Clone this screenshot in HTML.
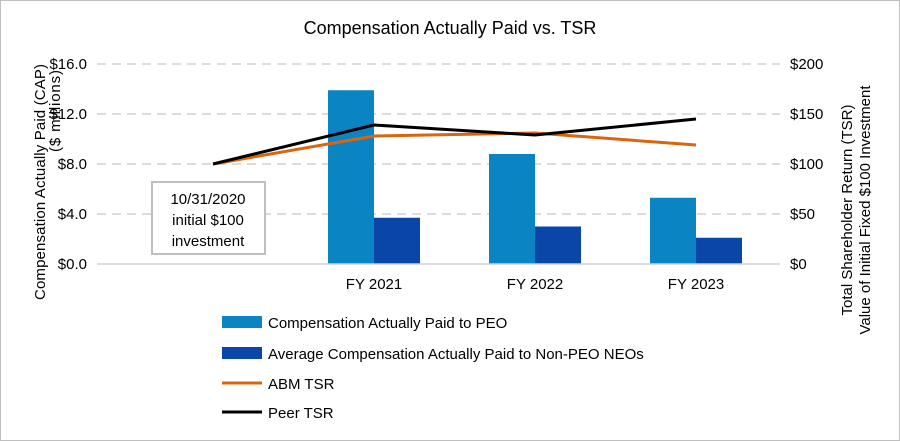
<!DOCTYPE html>
<html><head><meta charset="utf-8"><style>
body{margin:0;background:#fff}
svg{display:block;font-family:"Liberation Sans",Arial,sans-serif}
</style></head><body>
<svg id="c" width="900" height="441" viewBox="0 0 900 441">
<rect x="0.5" y="0.5" width="899" height="440" fill="#fff" stroke="#bfbfbf"/>
<text x="450" y="34" text-anchor="middle" font-size="18" fill="#000">Compensation  Actually  Paid vs. TSR</text>
<g id="grid"></g><g id="bars"></g><g id="lines"></g><g id="axes"></g>
<rect x="152" y="182" width="113" height="72" fill="#fff" stroke="#bfbfbf" stroke-width="2"/>
<text font-size="15" text-anchor="middle" fill="#000"><tspan x="208" y="204">10/31/2020</tspan><tspan x="208" y="225">initial $100</tspan><tspan x="208" y="246">investment</tspan></text>
<text transform="translate(45,300) rotate(-90)" font-size="15"><tspan x="0" y="0" textLength="236" lengthAdjust="spacing">Compensation  Actually  Paid (CAP)</tspan></text>
<text transform="translate(60,152) rotate(-90)" font-size="15"><tspan x="0" y="0" textLength="82" lengthAdjust="spacing">($ millions)</tspan></text>
<text transform="translate(852,210) rotate(-90)" text-anchor="middle" font-size="15"><tspan x="0" y="0">Total Shareholder Return (TSR)</tspan><tspan x="0" y="18">Value of Initial Fixed $100 Investment</tspan></text>
<g font-size="15">
<rect x="222" y="316" width="40" height="12" fill="#0A84C2"/>
<text x="268" y="328">Compensation Actually Paid to PEO</text>
<rect x="222" y="347" width="40" height="12" fill="#0A46A8"/>
<text x="268" y="359">Average Compensation Actually Paid to Non-PEO NEOs</text>
<line x1="222" y1="383" x2="262" y2="383" stroke="#D9650F" stroke-width="3"/>
<text x="268" y="389">ABM TSR</text>
<line x1="222" y1="412" x2="262" y2="412" stroke="#000" stroke-width="3"/>
<text x="268" y="418">Peer TSR</text>
</g>
</svg>
<script>
const categories=["","FY 2021","FY 2022","FY 2023"];
const peoValues=[null,13.9,8.8,5.3];
const nonPeoValues=[null,3.7,3.0,2.1];
const abmTsr=[100,128,131,119];
const peerTsr=[100,139,129,145];
const leftTicks=[0,4,8,12,16];
const rightTicks=[0,50,100,150,200];
const NS="http://www.w3.org/2000/svg";
const x0=132.5,step=161,yBase=264,yTop=64;
const xC=i=>x0+step*(i+0.5);
const yL=v=>yBase-(v/16)*(yBase-yTop);
const yR=v=>yBase-(v/200)*(yBase-yTop);
function mk(tag,attrs,parent){const e=document.createElementNS(NS,tag);for(const k in attrs)e.setAttribute(k,attrs[k]);document.getElementById(parent).appendChild(e);return e;}
leftTicks.forEach((t,i)=>{
 if(t>0){const g=mk('line',{x1:97,x2:780,y1:yL(t),y2:yL(t),stroke:'#d0d0d0','stroke-width':1.5,'stroke-dasharray':'9,6'},'grid');
 
 }
 const l=mk('text',{x:87,y:yL(t)+5,'text-anchor':'end','font-size':15},'axes');l.textContent='$'+t.toFixed(1);
 
 
});
rightTicks.forEach(t=>{
 const l=mk('text',{x:790,y:yR(t)+5,'font-size':15},'axes');l.textContent='$'+t;
 
 
});
const ax=mk('line',{x1:97,x2:780,y1:yBase,y2:yBase,stroke:'#d0d0d0','stroke-width':1.5},'axes');


const bw=46;
categories.forEach((c,i)=>{
 if(c){const t=mk('text',{x:xC(i),y:289,'text-anchor':'middle','font-size':15},'axes');t.textContent=c;
 
 }
 if(peoValues[i]!=null){const r=mk('rect',{x:xC(i)-bw,y:yL(peoValues[i]),width:bw,height:yBase-yL(peoValues[i]),fill:'#0A84C2'},'bars');
 
 }
 if(nonPeoValues[i]!=null){const r=mk('rect',{x:xC(i),y:yL(nonPeoValues[i]),width:bw,height:yBase-yL(nonPeoValues[i]),fill:'#0A46A8'},'bars');
 
 }
});
const pts=a=>a.map((v,i)=>xC(i)+','+yR(v)).join(' ');
const la=mk('polyline',{points:pts(abmTsr),fill:'none',stroke:'#D9650F','stroke-width':3},'lines');


const lp=mk('polyline',{points:pts(peerTsr),fill:'none',stroke:'#000','stroke-width':3},'lines');


</script>
</body></html>
